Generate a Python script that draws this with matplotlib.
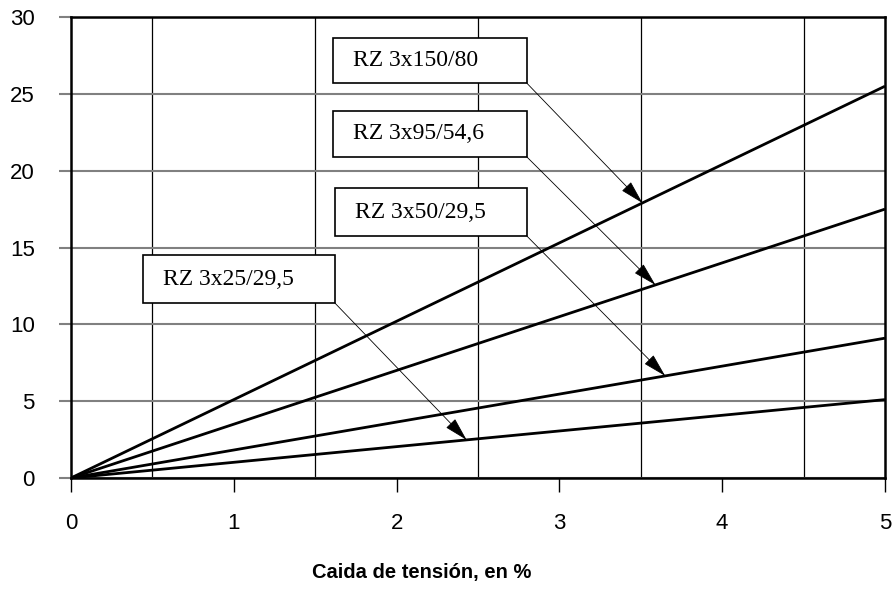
import numpy as np
import matplotlib
matplotlib.use("Agg")
from matplotlib import pyplot as plt
from matplotlib.patches import Rectangle

# datos
caida = [0, 1, 2, 3, 4, 5]
rz150 = [0, 5.1, 10.2, 15.3, 20.4, 25.5]
rz95 = [0, 3.5, 7.0, 10.5, 14.0, 17.5]
rz50 = [0, 1.82, 3.64, 5.46, 7.28, 9.1]
rz25 = [0, 1.02, 2.04, 3.06, 4.08, 5.1]
nombres = ["RZ 3x150/80", "RZ 3x95/54,6", "RZ 3x50/29,5", "RZ 3x25/29,5"]
series = [rz150, rz95, rz50, rz25]

# cajas de texto: (x0, y0, ancho, alto) en datos, y punto de la flecha en x
cajas = [(1.61, 25.7, 1.19, 2.95),
         (1.61, 20.9, 1.19, 3.0),
         (1.62, 15.75, 1.18, 3.1),
         (0.44, 11.4, 1.18, 3.1)]
flecha_x = [3.51, 3.59, 3.65, 2.43]

plt.rcParams['font.family'] = ['Liberation Sans', 'DejaVu Sans']

fig = plt.figure(figsize=(8.93, 5.89), dpi=100)
ax = fig.add_axes([0.0795, 0.1885, 0.9115, 0.7825])

for s in series:
    ax.plot(caida, s, color='black', lw=2.0, zorder=2, solid_capstyle='butt')

ax.set_xlim(0, 5)
ax.set_ylim(0, 30)
ax.set_xticks(np.arange(0, 6, 1))
ax.set_xticks(np.arange(0, 5.01, 0.5), minor=True)
ax.set_yticks(np.arange(0, 31, 5))
ax.grid(True, which='minor', axis='x', color='black', lw=0.9)
ax.grid(True, which='major', axis='y', color='#808080', lw=1.5)
ax.tick_params(axis='x', which='minor', length=0)
ax.tick_params(axis='x', which='major', length=10, width=1, direction='out',
               labelsize=16, pad=15, color='black')
ax.tick_params(axis='y', which='major', length=9, width=1.5, direction='out',
               labelsize=16, pad=17, color='#808080')
for sp in ax.spines.values():
    sp.set_linewidth(1.8)
    sp.set_color('black')
ax.set_axisbelow(True)

ax.set_xlabel("Caida de tensión, en %", fontsize=14.5, fontweight='bold', va='center')
ax.xaxis.set_label_coords(0.431, -0.206)

for nombre, s, (x0, y0, w, h), fx in zip(nombres, series, cajas, flecha_x):
    ax.add_patch(Rectangle((x0, y0), w, h, facecolor='white', edgecolor='black',
                           lw=1.2, zorder=4))
    ax.text(x0 + 0.125, y0 + h / 2, nombre, fontsize=17, family='Liberation Serif',
            va='center', ha='left', zorder=5)
    fy = np.interp(fx, caida, s)
    ax.annotate("", xy=(fx, fy), xytext=(x0 + w, y0),
                arrowprops=dict(arrowstyle='-|>,head_length=1.5,head_width=0.4',
                                color='black', lw=0.6, mutation_scale=10,
                                shrinkA=0, shrinkB=0),
                zorder=5)

fig.savefig("out.png", dpi=100)
